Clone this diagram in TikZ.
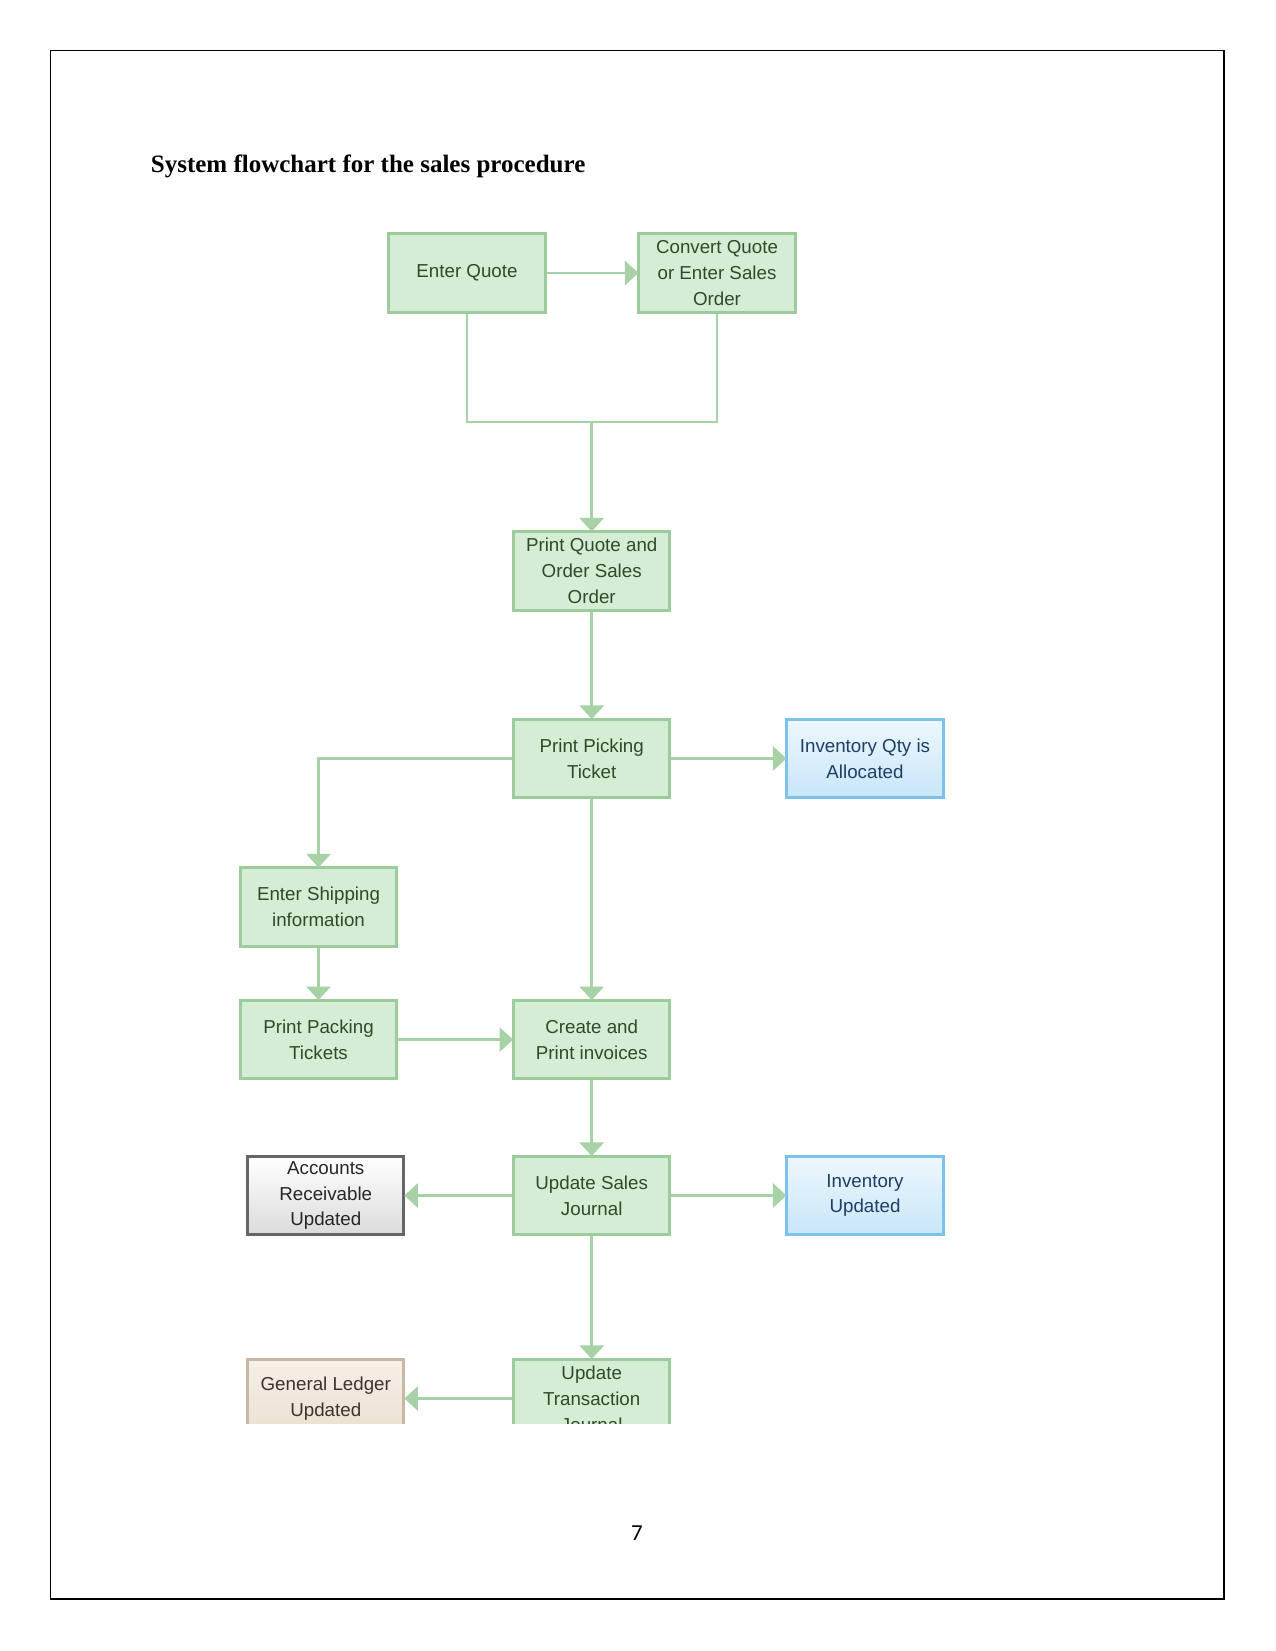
\documentclass[tikz,border=0pt]{standalone}
\usepackage{fontspec}
\setmainfont{Liberation Serif}
\newfontfamily\boxfont{Liberation Sans}
\newfontfamily\numfont{Carlito}
\usetikzlibrary{arrows.meta}
\definecolor{gline}{HTML}{A6D2A6}
\definecolor{gborder}{HTML}{9CCB9C}
\definecolor{gfill}{HTML}{D5EDD5}
\definecolor{gtext}{HTML}{2E4A2E}
\definecolor{bborder}{HTML}{7CC2EC}
\definecolor{btop}{HTML}{EDF7FD}
\definecolor{bbot}{HTML}{C8E6F8}
\definecolor{btext}{HTML}{1E3E66}
\definecolor{ltop}{HTML}{F6F0E8}
\definecolor{lbot}{HTML}{EADFD0}
\definecolor{lborder}{HTML}{C9B8A6}
\definecolor{ltext}{HTML}{3E3328}
\begin{document}
\begin{tikzpicture}[x=0.48pt,y=-0.48pt,
  box/.style={draw=gborder, line width=1.4pt, fill=gfill, minimum width=75pt, minimum height=37.5pt,
    inner sep=1pt, align=center, font=\boxfont\fontsize{9}{12.4}\selectfont, text=gtext},
  bluebox/.style={box, draw=bborder, top color=btop, bottom color=bbot, text=btext},
  greybox/.style={box, draw=black!60, top color=white, bottom color=black!14, text=black!85},
  ledgerbox/.style={box, draw=lborder, top color=ltop, bottom color=lbot, text=ltext},
  ln/.style={draw=gline, line width=1.4pt},
  conn/.style={ln, -{Triangle[length=6.5pt,width=11.5pt]}, shorten >=-0.5pt}]
\useasboundingbox (0,0) rectangle (1275,1651);
\draw[line width=0.6pt] (50.5,50.5) rectangle (1224,1599);
\node[anchor=west, inner sep=0pt, font=\bfseries\fontsize{12}{14}\selectfont] (title) at (150.5,166) {System flowchart for the sales procedure};
\node[font=\numfont\fontsize{11}{13}\selectfont] (pnum) at (637,1533) {7};
\begin{scope}
\clip (0,0) rectangle (1275,1423.5);
\node[box] (eq) at (467,273) {Enter Quote};
\node[box] (cq) at (717,273) {Convert Quote\\or Enter Sales\\Order};
\node[box] (pq) at (591.7,571) {Print Quote and\\Order Sales\\Order};
\node[box] (pp) at (591.7,758.5) {Print Picking\\Ticket};
\node[bluebox] (ia) at (865,758.5) {Inventory Qty is\\Allocated};
\node[box] (es) at (318.5,907) {Enter Shipping\\information};
\node[box] (pk) at (318.5,1039.6) {Print Packing\\Tickets};
\node[box] (cp) at (591.7,1039.6) {Create and\\Print invoices};
\node[greybox] (ar) at (325.8,1195.5) {Accounts\\Receivable\\Updated};
\node[box] (us) at (591.7,1195.5) {Update Sales\\Journal};
\node[bluebox] (iu) at (865,1195.5) {Inventory\\Updated};
\node[ledgerbox] (gl) at (325.8,1398.5) {General Ledger\\Updated};
\node[box] (ut) at (591.7,1398.5) {Update\\Transaction\\Journal};
\coordinate (j) at (591.7,422);
\draw[conn] (eq) -- (cq);
\draw[ln] (eq.south) |- (j) -| (cq.south);
\draw[conn] (j) -- (pq.north);
\draw[conn] (pq) -- (pp);
\draw[conn] (pp) -- (ia);
\draw[conn] (pp.west) -| (es.north);
\draw[conn] (pp) -- (cp);
\draw[conn] (es) -- (pk);
\draw[conn] (pk) -- (cp);
\draw[conn] (cp) -- (us);
\draw[conn] (us) -- (ar);
\draw[conn] (us) -- (iu);
\draw[conn] (us) -- (ut);
\draw[conn] (ut) -- (gl);
\end{scope}
\end{tikzpicture}
\end{document}
